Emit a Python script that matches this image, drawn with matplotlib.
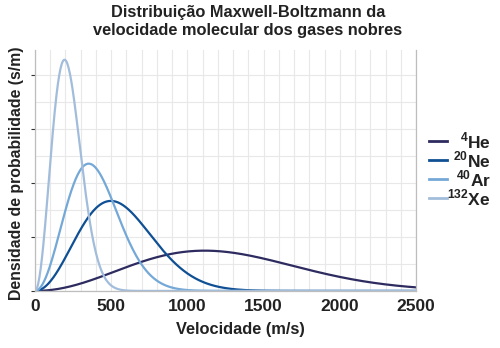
import numpy as np
import matplotlib
matplotlib.use('Agg')
import matplotlib.pyplot as plt
from matplotlib.lines import Line2D
from matplotlib.ticker import MultipleLocator

plt.rcParams['font.family'] = ['Liberation Sans', 'DejaVu Sans']
plt.rcParams['font.weight'] = 'bold'
plt.rcParams['mathtext.fontset'] = 'custom'
plt.rcParams['mathtext.rm'] = 'Liberation Sans:bold'
plt.rcParams['mathtext.bf'] = 'Liberation Sans:bold'

# gases: label, molar mass (g/mol), colour
gas_labels = [r'$^{4}$He', r'$^{20}$Ne', r'$^{40}$Ar', r'$^{132}$Xe']
molar_mass = [4.0026, 19.992, 39.962, 131.904]
colours = ['#2d2b5f', '#0f4f94', '#74a8d7', '#a2bddb']
temperature = 298.15  # K

R = 8.314462
v = np.linspace(0, 2500, 600)

fig = plt.figure(figsize=(5, 3.48), dpi=100)
ax = fig.add_axes([0.07, 0.164, 0.762, 0.692])

for lab, m, c in zip(gas_labels, molar_mass, colours):
    a = m / 1000 / (2 * R * temperature)
    f = 4 * np.pi * (a / np.pi) ** 1.5 * v ** 2 * np.exp(-a * v ** 2)
    ax.plot(v, f, color=c, lw=1.6, label=lab)

ax.set_xlim(0, 2500)
ax.set_ylim(0, 0.00446)
ax.xaxis.set_major_locator(MultipleLocator(500))
ax.xaxis.set_minor_locator(MultipleLocator(100))
ax.yaxis.set_major_locator(MultipleLocator(0.001))
ax.yaxis.set_minor_locator(MultipleLocator(0.0005))
ax.set_yticklabels([])
ax.grid(True, which='both', color='#e8e8e8', lw=0.8)
ax.set_axisbelow(True)
ax.tick_params(axis='x', which='both', length=0, labelsize=12.5, pad=6)
ax.tick_params(axis='y', which='major', length=3, color='#333333')
ax.tick_params(axis='y', which='minor', length=0)
for lbl in ax.get_xticklabels():
    lbl.set_fontweight('bold')
    lbl.set_color('#222222')

ax.spines['top'].set_visible(False)
for s in ['left', 'bottom', 'right']:
    ax.spines[s].set_color('#bdbdbd')
    ax.spines[s].set_linewidth(0.9)

ax.set_xlabel('Velocidade (m/s)', fontsize=11.8, fontweight='bold', color='#222222')
ax.xaxis.set_label_coords(205 / 381, -31 / 241)
ax.set_ylabel('Densidade de probabilidade (s/m)', fontsize=11.4, fontweight='bold',
              color='#222222', va='center')
ax.yaxis.set_label_coords(-18 / 381, 0.49)

fig.text(0.496, 0.985, 'Distribuição Maxwell-Boltzmann da\nvelocidade molecular dos gases nobres',
         ha='center', va='top', fontsize=11.8, fontweight='bold', color='#222222', linespacing=1.25)

# legend drawn by hand so the labels can be right-aligned
W, H = 500, 348
for i, (lab, c) in enumerate(zip(gas_labels, colours)):
    y = 1 - (141 + i * 19) / H
    fig.add_artist(Line2D([429 / W, 447 / W], [y, y], color=c, lw=2.0))
    fig.text(491 / W, y, lab, ha='right', va='center', fontsize=12.5,
             fontweight='bold', color='#222222')

fig.savefig('out.png', dpi=100)
